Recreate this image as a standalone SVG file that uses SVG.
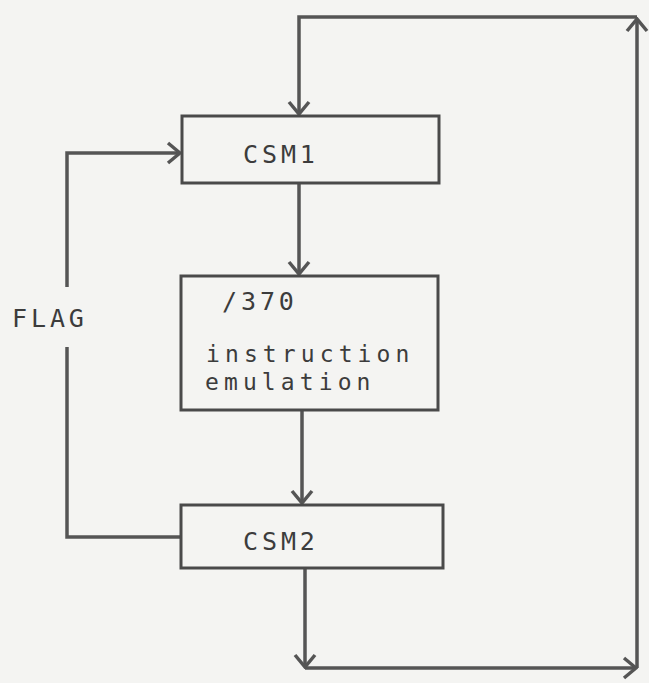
<svg xmlns="http://www.w3.org/2000/svg" width="649" height="683" viewBox="0 0 649 683">
<style>
.box{fill:none;stroke:#4a4a4a;stroke-width:3}
.ln{fill:none;stroke:#555;stroke-width:3.5;stroke-linejoin:miter}
.t{font-family:"DejaVu Sans Mono",monospace;font-size:25px;letter-spacing:3.9px;fill:#3c3c3c}
.s{font-size:23px;letter-spacing:5.1px}
</style>
<defs>
<marker id="ah" viewBox="-14 -12 16 24" refX="0" refY="0" markerWidth="16" markerHeight="24" markerUnits="userSpaceOnUse" orient="auto">
<path d="M-12,-10 L0,0 L-12,10" fill="none" stroke="#555" stroke-width="3.5"/>
</marker>
</defs>
<rect width="649" height="683" fill="#f4f4f2"/>
<g id="connectors">
<path class="ln" d="M305,568 V667" marker-end="url(#ah)"/>
<path class="ln" d="M305,668 H636" marker-end="url(#ah)"/>
<path class="ln" d="M637,668 V19" marker-end="url(#ah)"/>
<path class="ln" d="M637,17 H299 V114" marker-end="url(#ah)"/>
<path class="ln" d="M299,183 V274" marker-end="url(#ah)"/>
<path class="ln" d="M302,410 V503" marker-end="url(#ah)"/>
<path class="ln" d="M181,537 H67 V347"/>
<path class="ln" d="M67,287 V153 H180" marker-end="url(#ah)"/>
</g>
<g id="csm1">
<rect class="box" x="182" y="116" width="257" height="67"/>
<text class="t" x="243" y="163">CSM1</text>
</g>
<g id="emu">
<rect class="box" x="181" y="276" width="257" height="134"/>
<text class="t" x="222" y="310">/370</text>
<text class="t s" x="206" y="362">instruction</text>
<text class="t s" x="205" y="390">emulation</text>
</g>
<g id="csm2">
<rect class="box" x="181" y="505" width="262" height="63"/>
<text class="t" x="243" y="550">CSM2</text>
</g>
<g id="flag">
<text class="t" x="12" y="327">FLAG</text>
</g>
</svg>
